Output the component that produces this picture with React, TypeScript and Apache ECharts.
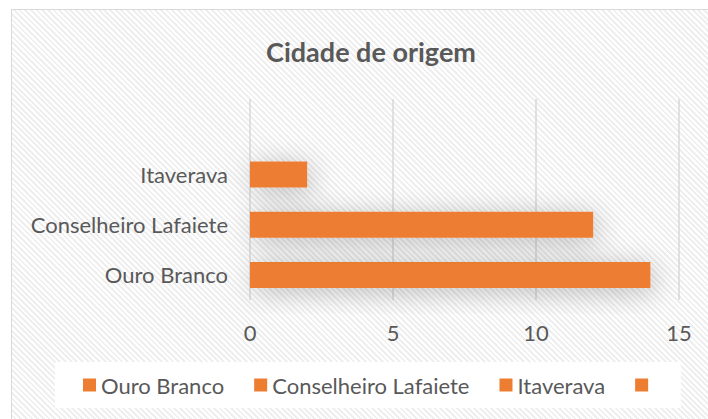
import React, { useEffect, useRef } from "react";
import * as echarts from "echarts";

const categories = ["Ouro Branco", "Conselheiro Lafaiete", "Itaverava", ""];
const values = [14, 12, 2, null];
const legendNames = ["Ouro Branco", "Conselheiro Lafaiete", "Itaverava", " "];
const xTicks = { min: 0, max: 15, interval: 5 };
const title = "Cidade de origem";

const ORANGE = "#ED7D31";
const TEXT = "#595959";
const FONT = "Lato, 'Open Sans', sans-serif";

export default function App() {
  const ref = useRef<HTMLDivElement>(null);
  useEffect(() => {
    if (!ref.current) return;
    const chart = echarts.init(ref.current, undefined, { renderer: "svg" });
    const series: any[] = legendNames.map((name, si) => ({
      name,
      type: "bar",
      stack: "one",
      barWidth: 26,
      itemStyle: {
        color: ORANGE,
        shadowColor: "rgba(0,0,0,0.25)",
        shadowBlur: 28,
        shadowOffsetX: 4,
        shadowOffsetY: 4,
      },
      data: categories.map((c, ci) => (ci === si ? values[ci] : null)),
    }));
    chart.setOption({
      animation: false,
      backgroundColor: "transparent",
      textStyle: { fontFamily: FONT },
      title: {
        text: title,
        left: 366,
        textAlign: "center",
        top: 33,
        textStyle: { fontFamily: FONT, fontSize: 27, fontWeight: "bold", color: TEXT },
      },
      grid: { left: 250, right: 29, top: 99, bottom: 119, containLabel: false },
      xAxis: {
        type: "value",
        min: xTicks.min,
        max: xTicks.max,
        interval: xTicks.interval,
        axisLine: { show: false },
        axisTick: { show: false },
        axisLabel: { color: TEXT, fontSize: 22, fontFamily: FONT, margin: 21 },
        splitLine: { show: true, lineStyle: { color: "#d9d9d9", width: 1.5 } },
      },
      yAxis: {
        type: "category",
        data: categories,
        axisLine: { show: false },
        axisTick: { show: false },
        axisLabel: { color: TEXT, fontSize: 22, fontFamily: FONT, margin: 22 },
      },
      legend: {
        data: legendNames,
        left: 55,
        top: 362,
        padding: [12, 22, 12, 28],
        backgroundColor: "#ffffff",
        itemWidth: 13,
        itemHeight: 13,
        itemGap: 30,
        icon: "rect",
        textStyle: { color: TEXT, fontSize: 22, fontFamily: FONT },
      },
      series,
    });
    return () => chart.dispose();
  }, []);

  return (
    <div style={{ position: "fixed", left: 0, top: 0, width: 708, height: 419, background: "#ffffff", overflow: "hidden" }}>
      <div
        style={{
          position: "absolute",
          left: 11,
          top: 9,
          width: 720,
          height: 440,
          border: "1.5px solid #d9d9d9",
          boxSizing: "border-box",
          background: "repeating-linear-gradient(45deg, #ffffff 0px, #ffffff 2px, #efefef 2px, #efefef 4px)",
        }}
      />
      <div ref={ref} style={{ position: "absolute", left: 0, top: 0, width: 708, height: 419 }} />
    </div>
  );
}
